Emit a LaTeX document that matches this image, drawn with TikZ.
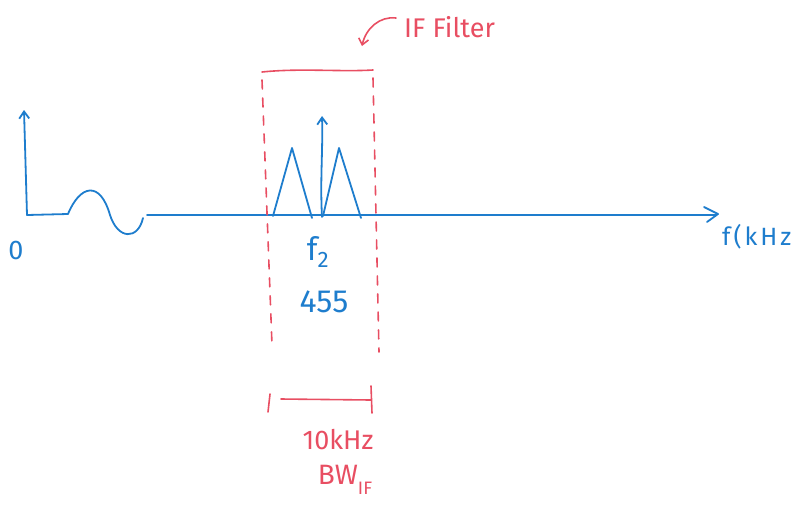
\documentclass[tikz,border=0pt]{standalone}
\usepackage{fontspec}
\setmainfont{Fira Sans}
\usetikzlibrary{arrows.meta}
\definecolor{pblue}{RGB}{30,125,205}
\definecolor{pred}{RGB}{232,78,98}
\begin{document}
\begin{tikzpicture}[x=1pt,y=-1pt,
  bl/.style={draw=pblue,line width=1.8pt,line cap=round,line join=round},
  rd/.style={draw=pred,line width=1.6pt,line cap=round,line join=round},
  rdash/.style={rd,dash pattern=on 9pt off 9pt},
  btxt/.style={text=pblue,inner sep=0pt},
  rtxt/.style={text=pred,inner sep=0pt},
  tip/.style={-{Straight Barb[length=7pt,width=10pt]}}]
\useasboundingbox (0,0) rectangle (811,507);
% axes
\coordinate (o) at (27,215);
\coordinate (ytop) at (24,110);
\coordinate (w0) at (68,214);
\coordinate (w1) at (143,218);
\coordinate (x0) at (147,215);
\coordinate (xend) at (716,215);
\draw[bl,tip] (o) -- (ytop);
\draw[bl] (o) -- (w0) .. controls (80,185) and (100,180) .. (110,215)
   .. controls (118,240) and (138,240) .. (w1);
\draw[bl] (x0) -- (xend);
\draw[bl] (704,207) -- (718,214) -- (707,222);
\node[btxt,anchor=west,font=\fontsize{25}{27}\selectfont\addfontfeature{LetterSpace=12}] (flab) at (722,237) {f(kHz};
\node[btxt,font=\fontsize{27}{29}\selectfont] (zero) at (16,250) {0};
% spectrum
\coordinate (c) at (322,217);
\coordinate (ctop) at (322,116);
\draw[bl,tip] (c) .. controls (320,180) and (323,150) .. (ctop);
\draw[bl] (273,216) -- (292,148) -- (312,218);
\draw[bl] (323,216) -- (339,148) -- (361,218);
\node[btxt,font=\fontsize{32}{34}\selectfont] (f2) at (318,252) {f\textsubscript{2}};
\node[btxt,font=\fontsize{32}{34}\selectfont] (n455) at (324,302) {455};
% IF filter
\coordinate (tl) at (262,72);
\coordinate (tr) at (373,70);
\draw[rd] (tl) .. controls (300,68) and (340,72) .. (tr);
\draw[rdash] (262,80) -- (272,345);
\draw[rdash] (373,78) -- (379,352);
\node[rtxt,anchor=west,font=\fontsize{27}{29}\selectfont] (iff) at (404,27) {IF Filter};
\coordinate (ah) at (362,46);
\draw[rd,-{Straight Barb[length=6pt,width=10pt]}] (396,18) .. controls (380,16) and (366,28) .. (ah);
% bandwidth
\coordinate (b0) at (281,399);
\coordinate (b1) at (371,400);
\draw[rd] (270,394) -- (268,412);
\draw[rd] (b0) -- (b1);
\draw[rd] (371,386) -- (372,413);
\node[rtxt,font=\fontsize{27}{29}\selectfont] (bw10) at (338,440) {10kHz};
\node[rtxt,font=\fontsize{28}{30}\selectfont] (bwif) at (345,480) {BW\raisebox{-10pt}{\fontsize{18}{20}\selectfont IF}};
\end{tikzpicture}
\end{document}
